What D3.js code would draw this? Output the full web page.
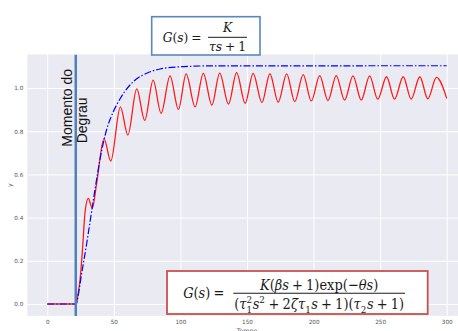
<!DOCTYPE html>
<html><head><meta charset="utf-8">
<script src="https://cdn.jsdelivr.net/npm/d3@7"></script>
<style>body{margin:0;background:#fff;} svg{display:block;}</style>
</head><body><div id="chart"></div>
<script>
// ---------- data ----------
const xTicks = [0, 50, 100, 150, 200, 250, 300];
const yTicks = [0.0, 0.2, 0.4, 0.6, 0.8, 1.0];
const xLabel = "Tempo";
const yLabel = "y";
const stepTime = 21.4;
const stepLabel = ["Momento do", "Degrau"];

// second-order-with-delay response (red), read at extrema
const redT = [0, 21.8, 23.0, 24.6, 26.6, 28.3, 30.8, 33.8, 37.1, 42.6, 47.7, 54.9, 60.5, 67.2, 73.2, 79.5, 85.5, 92.2, 98.5, 104.3, 111.0, 117.2, 123.6, 129.5, 136.1, 142.2, 148.6, 154.6, 161.2, 167.2, 173.4, 179.8, 185.9, 192.2, 198.3, 204.6, 210.8, 217.0, 223.3, 229.6, 235.8, 242.1, 248.2, 254.8, 260.8, 267.3, 273.3, 279.8, 285.8, 292.3, 300.0];
const redY = [0, 0, 0.04, 0.111, 0.265, 0.42, 0.489, 0.443, 0.559, 0.766, 0.662, 0.913, 0.782, 0.996, 0.850, 1.036, 0.883, 1.056, 0.901, 1.065, 0.913, 1.068, 0.921, 1.069, 0.926, 1.071, 0.929, 1.068, 0.932, 1.066, 0.934, 1.065, 0.937, 1.062, 0.940, 1.057, 0.941, 1.057, 0.944, 1.056, 0.944, 1.056, 0.948, 1.052, 0.948, 1.052, 0.949, 1.052, 0.950, 1.049, 0.952];

// first-order response (blue dash-dot)
const blueT = [0, 21.8, 22.6, 25.8, 29.6, 32.6, 36.6, 39.6, 44.7, 49.6, 54.7, 64.7, 74.7, 84.7, 102.3, 120, 300];
const blueY = [0, 0, 0.02, 0.14, 0.28, 0.40, 0.56, 0.67, 0.81, 0.89, 0.95, 1.03, 1.068, 1.088, 1.099, 1.102, 1.103];

// formula tokens (text content)
const topLhs = [{t:"G",i:1},{t:"("},{t:"s",i:1},{t:")"},{op:"="}];
const topNum = [{t:"K",i:1}];
const topDen = [{t:"τ",i:1},{t:"s",i:1},{op:"+"},{t:"1"}];
const botLhs = [{t:"G",i:1},{t:"("},{t:"s",i:1},{t:")"},{op:"="}];
const botNum = [{t:"K",i:1},{t:"("},{t:"β",i:1},{t:"s",i:1},{op:"+"},{t:"1"},{t:")"},{t:"exp"},{t:"("},{t:"−"},{t:"θ",i:1},{t:"s",i:1},{t:")"}];
const botDen = [{t:"("},{t:"τ",i:1},{stack:["2","1"]},{t:"s",i:1},{sup:"2"},{op:"+"},{t:"2"},{t:"ζ",i:1},{t:"τ",i:1},{sub:"1"},{t:"s",i:1},{op:"+"},{t:"1"},{t:")"},{t:"("},{t:"τ",i:1},{sub:"2"},{t:"s",i:1},{op:"+"},{t:"1"},{t:")"}];

// ---------- drawing ----------
const W = 458, H = 331;
const svg = d3.select("#chart").append("svg").attr("width", W).attr("height", H);

const x = d3.scaleLinear().domain([-15, 315]).range([27.3, 466.7]);
const y = d3.scaleLinear().domain([-0.055, 1.155]).range([315.9, 54.5]);
const [px0, px1] = x.range();
const [py1, py0] = y.range();

svg.append("defs").append("clipPath").attr("id", "clip")
  .append("rect").attr("x", px0).attr("y", py0).attr("width", px1 - px0).attr("height", py1 - py0);

svg.append("rect").attr("x", px0).attr("y", py0).attr("width", px1 - px0).attr("height", py1 - py0)
  .attr("fill", "#EAEAF2");

const tickFont = "'DejaVu Sans', sans-serif";
const gx = svg.append("g").attr("transform", `translate(0,${py1})`)
  .call(d3.axisBottom(x).tickValues(xTicks).tickSize(-(py1 - py0)).tickPadding(4).tickFormat(d3.format("d")));
const gy = svg.append("g").attr("transform", `translate(${px0},0)`)
  .call(d3.axisLeft(y).tickValues(yTicks).tickSize(-(px1 - px0)).tickPadding(4).tickFormat(d3.format(".1f")));
[gx, gy].forEach(g => {
  g.select(".domain").remove();
  g.selectAll(".tick line").attr("stroke", "#fff").attr("stroke-width", 1);
  g.selectAll(".tick text").attr("fill", "#555").attr("font-size", 5.7).attr("font-family", tickFont);
});

svg.append("text").attr("x", (px0 + px1) / 2).attr("y", 333).attr("text-anchor", "middle")
  .attr("font-size", 6.3).attr("font-family", tickFont).attr("fill", "#555").text(xLabel);
svg.append("text").attr("transform", `translate(12,${(py0 + py1) / 2}) rotate(-90)`).attr("text-anchor", "middle")
  .attr("font-size", 6.3).attr("font-family", tickFont).attr("fill", "#555").text(yLabel);

const plot = svg.append("g").attr("clip-path", "url(#clip)");
const line = d3.line().x(d => x(d[0])).y(d => y(d[1])).curve(d3.curveMonotoneX);

plot.append("path").datum(redT.map((t, i) => [t, redY[i]]))
  .attr("d", line).attr("fill", "none").attr("stroke", "#ff1a1a").attr("stroke-width", 1.3);
plot.append("path").datum(blueT.map((t, i) => [t, blueY[i]]))
  .attr("d", line).attr("fill", "none").attr("stroke", "#0000ff").attr("stroke-width", 1.2)
  .attr("stroke-dasharray", "7,2,1.5,2");

plot.append("line").attr("x1", x(stepTime)).attr("x2", x(stepTime)).attr("y1", py0).attr("y2", py1)
  .attr("stroke", "#4f81bd").attr("stroke-width", 2.5);

const labFont = "'Liberation Sans', Arial, sans-serif";
svg.append("text").attr("transform", "translate(71.5,146.7) rotate(-90)")
  .attr("font-size", 14).attr("font-family", labFont).attr("fill", "#111").text(stepLabel[0]);
svg.append("text").attr("transform", "translate(87,143.3) rotate(-90)")
  .attr("font-size", 14).attr("font-family", labFont).attr("fill", "#111").text(stepLabel[1]);

// ---------- formula boxes ----------
svg.append("rect").attr("x", 151.7).attr("y", 16.7).attr("width", 108.3).attr("height", 38.3)
  .attr("fill", "#fff").attr("stroke", "#5b87c0").attr("stroke-width", 1.6);
svg.append("rect").attr("x", 167).attr("y", 271).attr("width", 260.7).attr("height", 43)
  .attr("fill", "#fff").attr("stroke", "#c9504d").attr("stroke-width", 1.8);

const mathFont = "'DejaVu Serif', serif";
const vStretch = 1.12;
function put(g, s, cx, dy, fs, italic) {
  const t = g.append("text").attr("x", cx).attr("y", dy).attr("font-size", fs)
    .attr("font-family", mathFont).attr("font-style", italic ? "italic" : "normal")
    .attr("fill", "#1a1a1a").text(s);
  return t.node().getComputedTextLength();
}
function layoutRow(g, tokens, fs) {
  let cx = 0;
  tokens.forEach(tok => {
    if (tok.op) { cx += fs * 0.24; cx += put(g, tok.op, cx, 0, fs, false) + fs * 0.24; }
    else if (tok.stack) {
      const w1 = put(g, tok.stack[0], cx, -fs * 0.42, fs * 0.68, false);
      const w2 = put(g, tok.stack[1], cx, fs * 0.24, fs * 0.68, false);
      cx += Math.max(w1, w2) + fs * 0.04;
    }
    else if (tok.sup) { cx += put(g, tok.sup, cx, -fs * 0.42, fs * 0.68, false) + fs * 0.04; }
    else if (tok.sub) { cx += put(g, tok.sub, cx, fs * 0.24, fs * 0.68, false) + fs * 0.04; }
    else { cx += put(g, tok.t, cx, 0, fs, tok.i); }
  });
  return cx;
}
function formula(cfg) {
  const tmp = svg.append("g");
  const w10 = layoutRow(tmp, cfg.den, 10);
  tmp.remove();
  const fs = 10 * cfg.denWidth / w10;
  const g = svg.append("g");
  const barC = (cfg.bar0 + cfg.bar1) / 2;
  const gn = g.append("g"); const wn = layoutRow(gn, cfg.num, fs);
  gn.attr("transform", `translate(${barC - wn / 2},${cfg.numBase}) scale(1,${vStretch})`);
  const gd = g.append("g"); const wd = layoutRow(gd, cfg.den, fs);
  gd.attr("transform", `translate(${barC - wd / 2},${cfg.denBase}) scale(1,${vStretch})`);
  g.append("line").attr("x1", cfg.bar0).attr("x2", cfg.bar1).attr("y1", cfg.barY).attr("y2", cfg.barY)
    .attr("stroke", "#1a1a1a").attr("stroke-width", cfg.barW);
  const gl = g.append("g"); const wl = layoutRow(gl, cfg.lhs, fs);
  gl.attr("transform", `translate(${cfg.lhsRight - wl},${cfg.lhsBase}) scale(1,${vStretch})`);
}
formula({lhs: topLhs, num: topNum, den: topDen, denWidth: 37, bar0: 208, bar1: 247, barY: 37.3,
  numBase: 32, denBase: 51, lhsRight: 204.5, lhsBase: 42.3, barW: 1});
formula({lhs: botLhs, num: botNum, den: botDen, denWidth: 170, bar0: 233.3, bar1: 405, barY: 293.3,
  numBase: 290, denBase: 309.3, lhsRight: 227.5, lhsBase: 298.3, barW: 1.1});
</script>
</body></html>
